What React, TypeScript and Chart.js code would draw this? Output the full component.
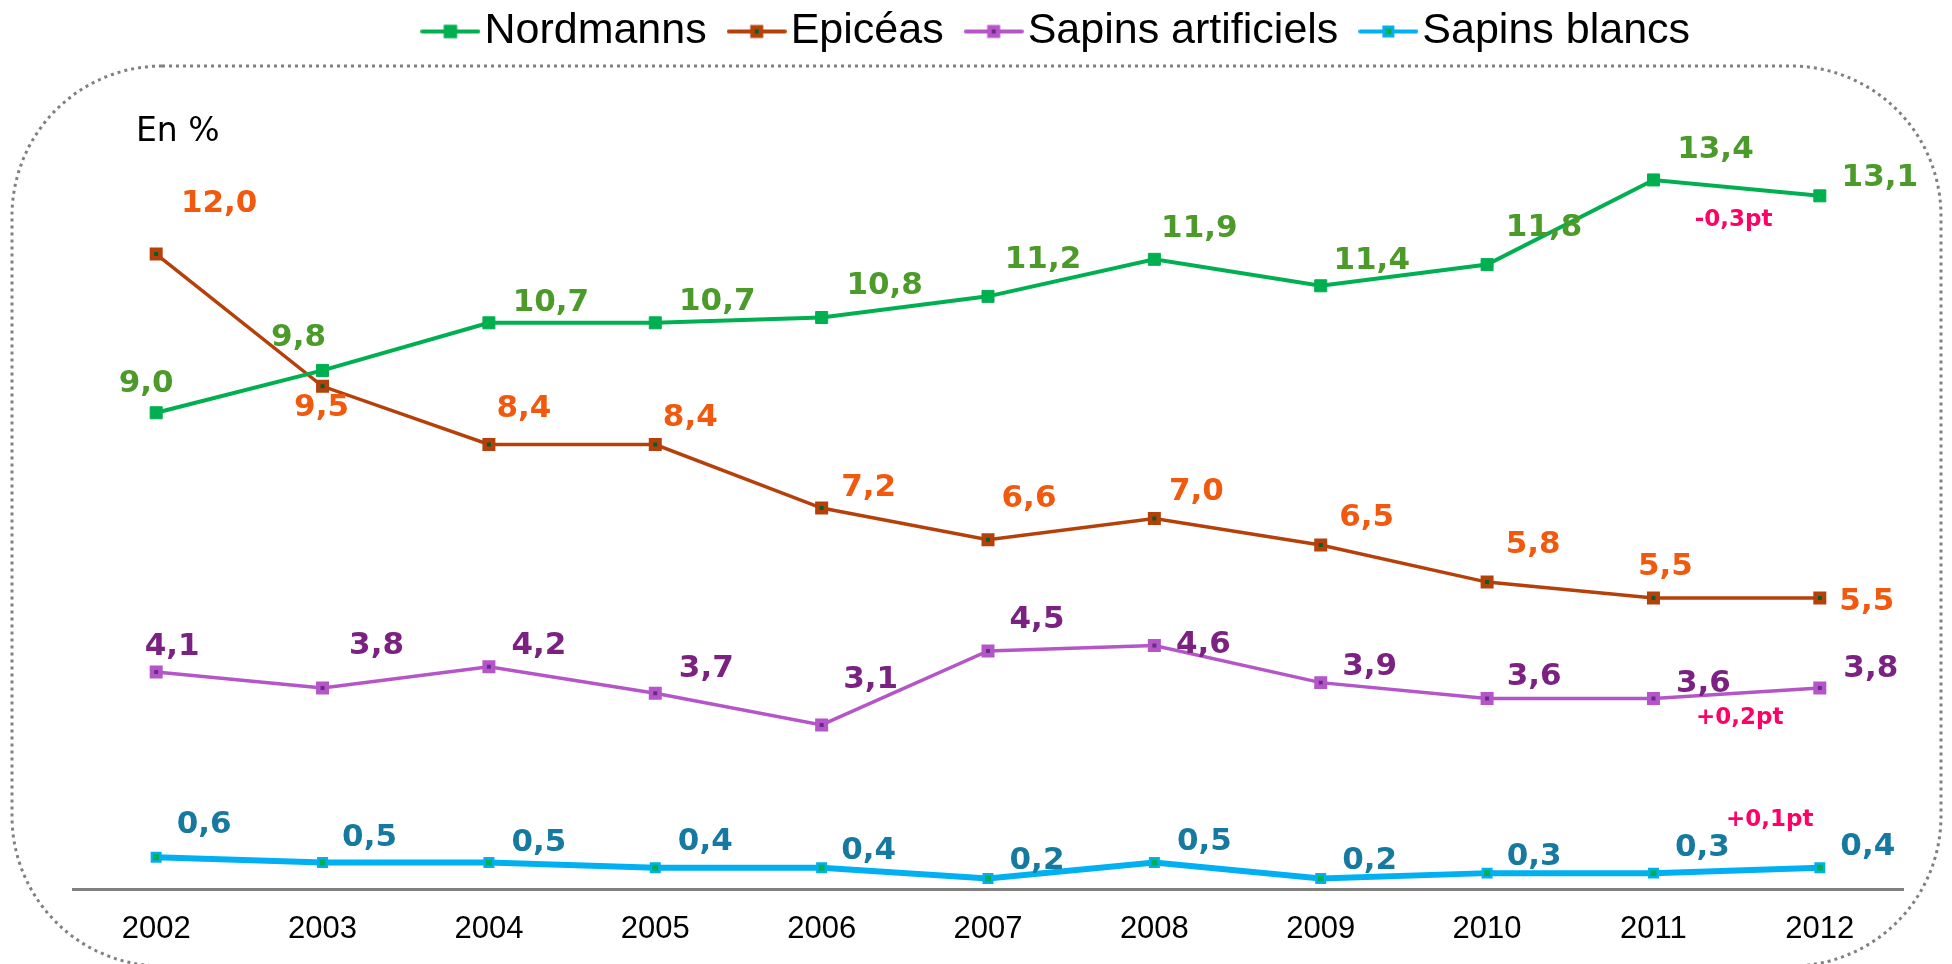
import React, { useEffect, useRef } from "react";
import { Chart, registerables } from "chart.js";

Chart.register(...registerables);

// ---- Data ----
const years = ["2002", "2003", "2004", "2005", "2006", "2007", "2008", "2009", "2010", "2011", "2012"];
const nordmanns = [9.0, 9.8, 10.7, 10.7, 10.8, 11.2, 11.9, 11.4, 11.8, 13.4, 13.1];
const epiceas = [12.0, 9.5, 8.4, 8.4, 7.2, 6.6, 7.0, 6.5, 5.8, 5.5, 5.5];
const sapinsArtificiels = [4.1, 3.8, 4.2, 3.7, 3.1, 4.5, 4.6, 3.9, 3.6, 3.6, 3.8];
const sapinsBlancs = [0.6, 0.5, 0.5, 0.4, 0.4, 0.2, 0.5, 0.2, 0.3, 0.3, 0.4];
const seriesNames = ["Nordmanns", "Epicéas", "Sapins artificiels", "Sapins blancs"];
const unitLabel = "En %";
const changeNotes = ["-0,3pt", "+0,2pt", "+0,1pt"];

// ---- Styles / label placement (pixels, not data) ----
const lineColors = ["#00B050", "#B5400A", "#B455C8", "#00B0F0"];
const markerFill = ["#00B050", "#00602A", "#6A2A8A", "#00B050"];
const labelColors = ["#4C9A2A", "#F15A0E", "#7A2182", "#16799F"];
const lineWidths = [4, 3.5, 3.5, 6];
const labelOffsets: number[][][] = [
  [[-10, -29], [-24, -32], [62, -20], [62, -21], [63, -32], [55, -36], [45, -30], [51, -25], [57, -37], [62, -30], [60, -18]],
  [[63, -50], [-1, 22], [35, -36], [35, -27], [47, -20], [41, -41], [42, -27], [46, -27], [46, -37], [12, -31], [47, 4]],
  [[16, -25], [54, -42], [50, -21], [51, -24], [49, -45], [49, -31], [49, -1], [49, -16], [47, -22], [50, -15], [51, -19]],
  [[48, -32], [47, -25], [50, -20], [50, -26], [47, -17], [49, -17], [50, -21], [49, -17], [47, -16], [49, -25], [48, -21]],
];
// notes: [seriesIndex, dx from midpoint 2011-2012, dy from midpoint of the two points]
const noteAnchors = [
  [0, -3, 32],
  [2, 3, 25],
  [3, 33, -50],
];

const fmt = (v: number) => v.toFixed(1).replace(".", ",");

const ICON_W = 60;

function makeLegendIcon(line: string, border: string, fill: string, outer: number, inner: number) {
  const c = document.createElement("canvas");
  c.width = ICON_W;
  c.height = 16;
  const g = c.getContext("2d")!;
  g.strokeStyle = line;
  g.lineWidth = 4;
  g.lineCap = "round";
  g.beginPath();
  g.moveTo(2, 8);
  g.lineTo(ICON_W - 2, 8);
  g.stroke();
  g.fillStyle = border;
  g.fillRect(ICON_W / 2 - outer / 2, 8 - outer / 2, outer, outer);
  g.fillStyle = fill;
  g.fillRect(ICON_W / 2 - inner / 2, 8 - inner / 2, inner, inner);
  return c;
}

export default function App() {
  const ref = useRef<HTMLCanvasElement | null>(null);

  useEffect(() => {
    const canvas = ref.current;
    if (!canvas) return;

    const icons = [
      makeLegendIcon(lineColors[0], lineColors[0], markerFill[0], 13, 13),
      makeLegendIcon(lineColors[1], lineColors[1], markerFill[1], 13, 4),
      makeLegendIcon(lineColors[2], lineColors[2], markerFill[2], 13, 4),
      makeLegendIcon(lineColors[3], lineColors[3], markerFill[3], 12, 6),
    ];

    const seriesValues = [nordmanns, epiceas, sapinsArtificiels, sapinsBlancs];

    const decorPlugin = {
      id: "decor",
      beforeDraw(chart: any) {
        const ctx = chart.ctx;
        ctx.save();
        ctx.strokeStyle = "#808080";
        ctx.lineWidth = 3;
        ctx.setLineDash([3, 4]);
        ctx.beginPath();
        (ctx as any).roundRect(12, 66, 1929, 900, 150);
        ctx.stroke();
        ctx.restore();

        ctx.save();
        ctx.fillStyle = "#000";
        ctx.font = '33px "DejaVu Sans"';
        ctx.textAlign = "left";
        ctx.textBaseline = "alphabetic";
        ctx.fillText(unitLabel, 136, 141);
        ctx.restore();
      },
      afterDatasetsDraw(chart: any) {
        const ctx = chart.ctx;
        ctx.save();
        ctx.textAlign = "center";
        ctx.textBaseline = "middle";
        ctx.font = 'bold 31px "DejaVu Sans"';
        seriesValues.forEach((vals, i) => {
          const meta = chart.getDatasetMeta(i);
          ctx.fillStyle = labelColors[i];
          meta.data.forEach((pt: any, j: number) => {
            const off = labelOffsets[i][j];
            ctx.fillText(fmt(vals[j]), pt.x + off[0], pt.y + off[1]);
          });
        });
        ctx.font = 'bold 23px "DejaVu Sans"';
        ctx.fillStyle = "#FF0066";
        noteAnchors.forEach((a, k) => {
          const meta = chart.getDatasetMeta(a[0]);
          const p1 = meta.data[9];
          const p2 = meta.data[10];
          const mx = (p1.x + p2.x) / 2 + a[1];
          const my = (p1.y + p2.y) / 2 + a[2];
          ctx.fillText(changeNotes[k], mx, my);
        });
        ctx.restore();
      },
    };

    const datasets = seriesValues.map((vals, i) => ({
      label: seriesNames[i],
      data: vals,
      borderColor: lineColors[i],
      backgroundColor: lineColors[i],
      borderWidth: lineWidths[i],
      tension: 0,
      fill: false,
      pointStyle: "rect",
      pointRadius: i === 0 ? 8.5 : 6,
      pointBackgroundColor: markerFill[i],
      pointBorderColor: lineColors[i],
      pointBorderWidth: i === 0 ? 1 : i === 3 ? 2.5 : 4.5,
      clip: false,
    }));

    const chart = new Chart(canvas, {
      type: "line",
      data: { labels: years, datasets: datasets as any },
      options: {
        animation: false,
        responsive: false,
        devicePixelRatio: 1,
        layout: { padding: { top: -27.5, left: 0, right: 0, bottom: 0 } },
        plugins: {
          tooltip: { enabled: false },
          legend: {
            display: true,
            position: "top",
            align: "center",
            labels: {
              usePointStyle: true,
              pointStyleWidth: 25,
              padding: 37.5,
              color: "#000",
              font: { family: '"Liberation Sans", Arial, sans-serif', size: 43 },
              generateLabels: (ch: any) =>
                ch.data.datasets.map((ds: any, i: number) => ({
                  text: ds.label,
                  fillStyle: lineColors[i],
                  strokeStyle: lineColors[i],
                  lineWidth: 0,
                  pointStyle: icons[i],
                  hidden: false,
                  datasetIndex: i,
                  fontColor: "#000",
                })),
            },
          },
        },
        scales: {
          x: {
            offset: true,
            grid: { display: false, drawTicks: false },
            border: { display: true, color: "#808080", width: 3 },
            ticks: {
              color: "#000",
              padding: 22,
              font: { family: '"Liberation Sans", Arial, sans-serif', size: 31 },
              maxRotation: 0,
              autoSkip: false,
            },
            afterFit: (s: any) => {
              s.height = 75;
            },
          },
          y: {
            min: 0,
            max: 15.61,
            display: true,
            grid: { display: false, drawTicks: false },
            border: { display: false },
            ticks: { display: false },
            afterFit: (s: any) => {
              s.width = 73;
            },
          },
          yPad: {
            position: "right",
            min: 0,
            max: 1,
            display: true,
            grid: { display: false, drawTicks: false },
            border: { display: false },
            ticks: { display: false },
            afterFit: (s: any) => {
              s.width = 225;
            },
          },
        } as any,
      },
      plugins: [decorPlugin],
    });

    return () => chart.destroy();
  }, []);

  return (
    <div
      style={{
        position: "fixed",
        left: 0,
        top: 0,
        width: 1952,
        height: 964,
        overflow: "hidden",
        background: "#fff",
      }}
    >
      <canvas ref={ref} width={2128} height={964} style={{ display: "block", width: 2128, height: 964 }} />
    </div>
  );
}
